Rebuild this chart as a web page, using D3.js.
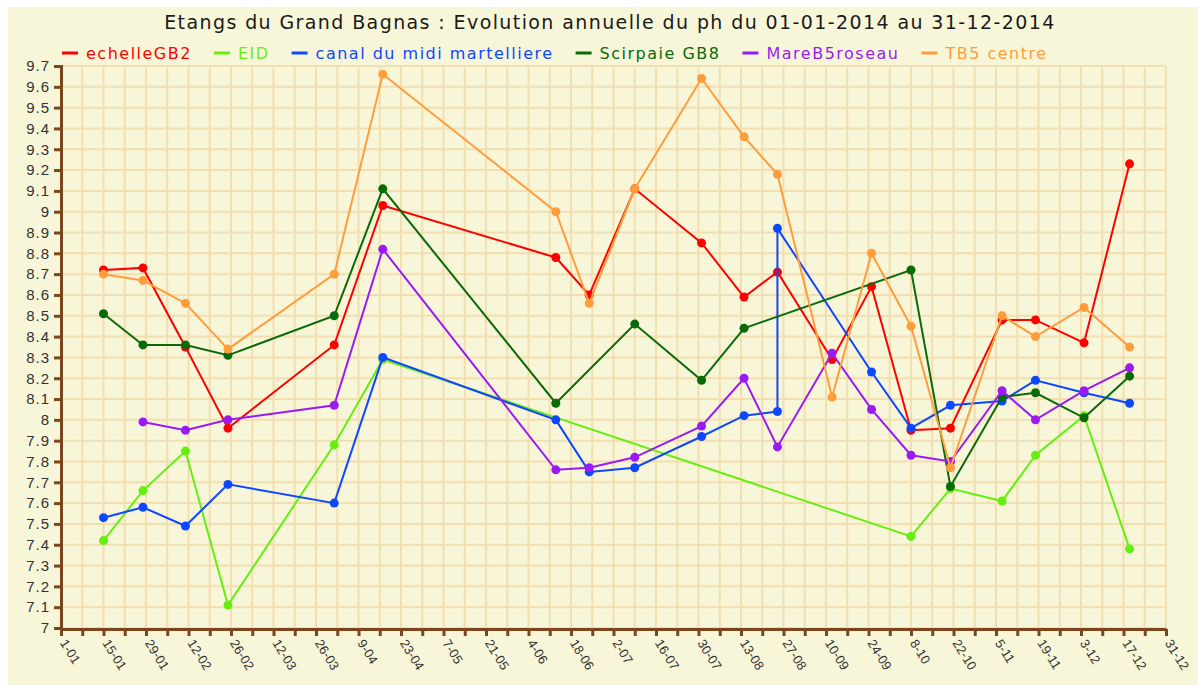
<!DOCTYPE html>
<html>
<head>
<meta charset="utf-8">
<script src="https://cdn.jsdelivr.net/npm/d3@7"></script>
<style>
  html, body { margin: 0; padding: 0; background: #ffffff; }
  svg { display: block; font-family: "DejaVu Sans", Verdana, sans-serif; }
</style>
</head>
<body>
<script>
// sampling dates (Aug 25 appears twice: two readings for the canal)
const dates = ["2014-01-15", "2014-01-28", "2014-02-11", "2014-02-25", "2014-04-01", "2014-04-17",
  "2014-06-13", "2014-06-24", "2014-07-09", "2014-07-31", "2014-08-14", "2014-08-25", "2014-08-25",
  "2014-09-12", "2014-09-25", "2014-10-08", "2014-10-21", "2014-11-07", "2014-11-18", "2014-12-04", "2014-12-19"];

const echelleGB2 = [8.72, 8.73, 8.35, 7.96, 8.36, 9.03, 8.78, 8.60, 9.11, 8.85, 8.59, 8.71, null,
  8.29, 8.64, 7.95, 7.96, 8.48, 8.48, 8.37, 9.23];
const EID = [7.42, 7.66, 7.85, 7.11, 7.88, 8.29, null, null, null, null, null, null, null,
  null, null, 7.44, 7.67, 7.61, 7.83, 8.02, 7.38];
const canalMidi = [7.53, 7.58, 7.49, 7.69, 7.60, 8.30, 8.00, 7.75, 7.77, 7.92, 8.02, 8.04, 8.92,
  null, 8.23, 7.96, 8.07, 8.09, 8.19, 8.13, 8.08];
const scirpaieGB8 = [8.51, 8.36, 8.36, 8.31, 8.50, 9.11, 8.08, null, 8.46, 8.19, 8.44, null, null,
  null, null, 8.72, 7.68, 8.11, 8.13, 8.01, 8.21];
const mareB5 = [null, 7.99, 7.95, 8.00, 8.07, 8.82, 7.76, 7.77, 7.82, 7.97, 8.20, 7.87, null,
  8.32, 8.05, 7.83, 7.80, 8.14, 8.00, 8.14, 8.25];
const tb5 = [8.70, 8.67, 8.56, 8.34, 8.70, 9.66, 9.00, 8.56, 9.11, 9.64, 9.36, 9.18, null,
  8.11, 8.80, 8.45, 7.77, 8.50, 8.40, 8.54, 8.35];

const seriesNames = ["echelleGB2", "EID", "canal du midi martelliere", "Scirpaie GB8", "MareB5roseau", "TB5 centre"];
const seriesValues = [echelleGB2, EID, canalMidi, scirpaieGB8, mareB5, tb5];
const seriesColors = ["#ff0000", "#66ee11", "#0d47ff", "#0a6a0a", "#9a1af5", "#ff9d3c"];

const title = "Etangs du Grand Bagnas : Evolution annuelle du ph du 01-01-2014 au 31-12-2014";
const yMin = 7, yMax = 9.7;

const W = 1198, H = 685;
const parse = d3.timeParse("%Y-%m-%d");

const svg = d3.select("body").append("svg")
  .attr("width", W).attr("height", H);

svg.append("rect")
  .attr("x", 8).attr("y", 7)
  .attr("width", W - 8).attr("height", H - 7)
  .attr("fill", "#f8f6d9");

const start = parse("2014-01-01"), end = parse("2014-12-31");
const x = d3.scaleTime()
  .domain([start, end])
  .range([61, 1166]);
const y = d3.scaleLinear()
  .domain([yMin, yMax])
  .range([628, 66]);

// one tick a week from 1 January, labelled every other week
const weekTicks = d3.range(0, 53).map(i => d3.timeDay.offset(start, i * 7));
const yTicks = d3.range(0, 28).map(i => +(yMin + i * 0.1).toFixed(1));

// grid
const grid = svg.append("g").attr("stroke", "#f3deaf").attr("stroke-width", 2);
grid.selectAll("line.v").data(weekTicks).enter().append("line")
  .attr("x1", d => x(d)).attr("x2", d => x(d))
  .attr("y1", y(yMax)).attr("y2", y(yMin));
grid.selectAll("line.h").data(yTicks).enter().append("line")
  .attr("x1", x.range()[0]).attr("x2", x.range()[1])
  .attr("y1", d => y(d)).attr("y2", d => y(d));

// axes
const axisColor = "#7b461c";
const yAxis = svg.append("g")
  .attr("transform", `translate(${x.range()[0]},0)`)
  .call(d3.axisLeft(y).tickValues(yTicks).tickSize(7).tickPadding(4)
    .tickFormat(d => String(+d.toFixed(1))));
const xAxis = svg.append("g")
  .attr("transform", `translate(0,${y(yMin) + 1})`)
  .call(d3.axisBottom(x).tickValues(weekTicks).tickSize(7).tickSizeOuter(0)
    .tickFormat((d, i) => i % 2 === 0 ? d3.timeFormat("%-d-%m")(d) : ""));

[yAxis, xAxis].forEach(a => {
  a.select(".domain").attr("stroke", axisColor).attr("stroke-width", 3);
  a.selectAll(".tick line").attr("stroke", axisColor).attr("stroke-width", 3);
  a.selectAll("text").attr("fill", "#333").style("font-size", "15px");
});
yAxis.selectAll("text").attr("letter-spacing", "1px");
xAxis.selectAll(".tick text")
  .style("font-size", "13px")
  .attr("text-anchor", "start")
  .attr("y", 0).attr("dy", 0)
  .attr("transform", "translate(-2,14) rotate(58)");

// lines and points
const line = d3.line().x(d => x(d.date)).y(d => y(d.value));
seriesValues.forEach((vals, k) => {
  const pts = vals.map((v, i) => ({date: parse(dates[i]), value: v})).filter(p => p.value !== null);
  const g = svg.append("g");
  g.append("path").datum(pts)
    .attr("d", line)
    .attr("fill", "none")
    .attr("stroke", seriesColors[k])
    .attr("stroke-width", 2);
  g.selectAll("circle").data(pts).enter().append("circle")
    .attr("cx", d => x(d.date)).attr("cy", d => y(d.value))
    .attr("r", 4.5)
    .attr("fill", seriesColors[k]);
});

// title
svg.append("text")
  .attr("x", 610).attr("y", 29)
  .attr("text-anchor", "middle")
  .attr("fill", "#1a1a1a")
  .attr("letter-spacing", "1.4px")
  .style("font-size", "19px")
  .text(title);

// legend
const legend = svg.append("g").attr("transform", "translate(62,53)");
let lx = 0;
seriesNames.forEach((name, k) => {
  const item = legend.append("g").attr("transform", `translate(${lx},0)`);
  item.append("rect").attr("x", 0).attr("y", -1.5).attr("width", 16).attr("height", 3)
    .attr("fill", seriesColors[k]);
  const t = item.append("text").attr("x", 24).attr("y", 5.5)
    .attr("fill", seriesColors[k])
    .attr("letter-spacing", "1.5px")
    .style("font-size", "16px")
    .text(name);
  lx += 24 + t.node().getComputedTextLength() + 22;
});
</script>
</body>
</html>
